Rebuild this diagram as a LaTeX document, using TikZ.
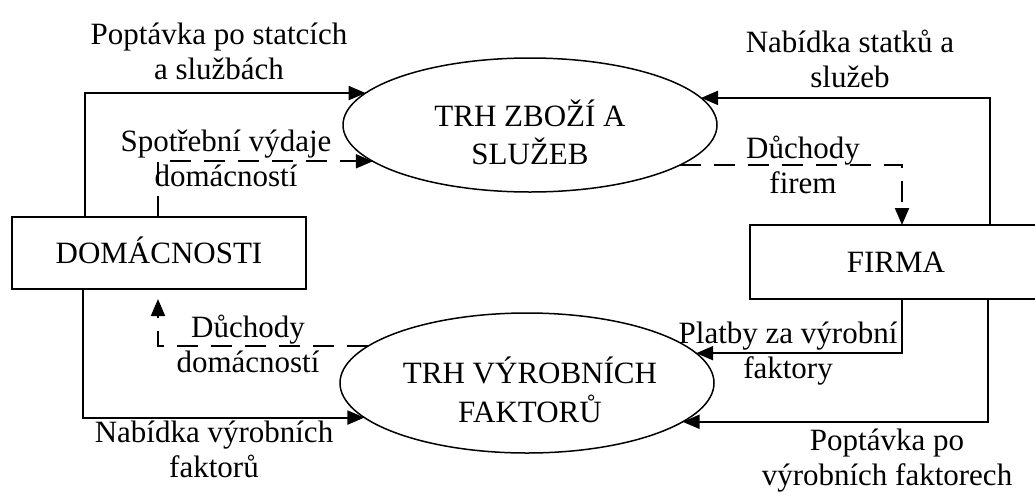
\documentclass[tikz,border=0pt]{standalone}
\usepackage{fontspec}
\setmainfont{Liberation Serif}
\usetikzlibrary{arrows.meta,shapes.geometric}
\begin{document}
\begin{tikzpicture}[x=1pt,y=-1pt,
  every node/.style={font=\fontsize{31}{35}\selectfont, inner sep=0pt, outer sep=0pt},
  agent/.style={draw, line width=1.5pt, minimum width=294pt, minimum height=72pt, text height=21pt, text depth=0pt},
  market/.style={draw, ellipse, line width=1.5pt, minimum width=374pt},
  lbl/.style={align=center},
  real/.style={line width=2pt, -{Triangle[length=17pt,width=14pt]}},
  money/.style={real, dash pattern=on 21pt off 13pt}]
\fill[white] (0,0) rectangle (1035,496);
\useasboundingbox (0,0) rectangle (1035,496);

% agents
\node[agent] (dom) at (159,253) {DOMÁCNOSTI};
\node[agent, minimum width=292pt, minimum height=74pt] (firma) at (896,262) {FIRMA};

% markets
\node[market, minimum height=134pt] (tz) at (530,125) {};
\node[lbl] (tzt) at (530,137.5) {\strut TRH ZBOŽÍ A\\\strut SLUŽEB};
\node[market, minimum height=140pt] (tv) at (527,383) {};
\node[lbl] (tvt) at (530,394.5) {\strut TRH VÝROBNÍCH\\\strut FAKTORŮ};

% connectors
\draw[real] ([xshift=-74pt]dom.north) |- (tz.169);
\draw[money] ([xshift=-1pt]dom.north) |- (tz.-167);
\draw[real] ([xshift=94pt]firma.north) |- (tz.9);
\draw[money] (tz.-15) -| ([xshift=6pt]firma.north);
\draw[money, shorten >=10pt] (tv.167) -| ([xshift=-1pt]dom.south);
\draw[real] ([xshift=-76pt]dom.south) |- (tv.-168);
\draw[real] ([xshift=6pt]firma.south) |- (tv.10);
\draw[real] ([xshift=92pt]firma.south) |- (tv.-14);

% labels
\node[lbl] (l1) at (219,54.5) {\strut Poptávka po statcích\\\strut a službách};
\node[lbl] (l2) at (226,161.5) {\strut Spotřební výdaje\\\strut domácností};
\node[lbl] (l3) at (850,63) {\strut Nabídka statků a\\\strut služeb};
\node[lbl] (l4) at (803,168.5) {\strut Důchody\\\strut firem};
\node[lbl] (l5) at (248,348) {\strut Důchody\\\strut domácností};
\node[lbl] (l6) at (214,452.5) {\strut Nabídka výrobních\\\strut faktorů};
\node[lbl] (l7) at (788,353.5) {\strut Platby za výrobní\\\strut faktory};
\node[lbl] (l8) at (887,460.5) {\strut Poptávka po\\\strut výrobních faktorech};
\end{tikzpicture}
\end{document}
